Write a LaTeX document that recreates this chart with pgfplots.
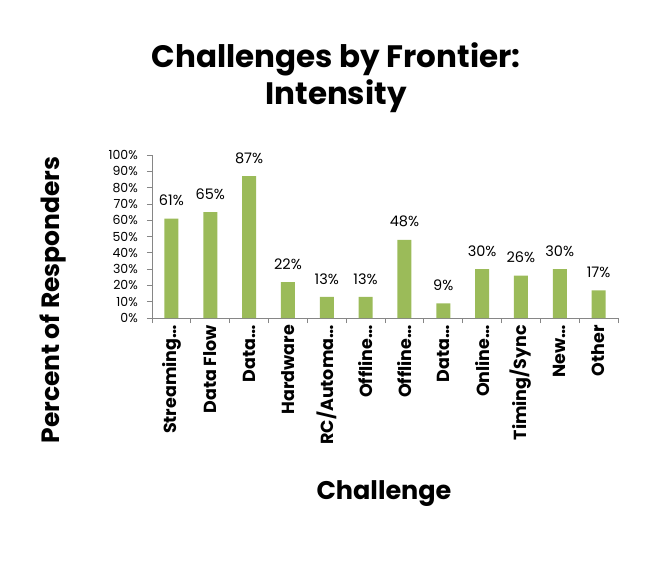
\documentclass[border=0pt]{standalone}
\usepackage{fontspec}
\setmainfont{Poppins}
\usepackage{pgfplots}
\pgfplotsset{compat=1.18}
\definecolor{bargreen}{HTML}{9BBB59}
\definecolor{axgray}{HTML}{868686}
\begin{document}
\begin{tikzpicture}
\useasboundingbox (0pt,0pt) rectangle (664pt,566pt);
\begin{axis}[
  at={(152pt,248pt)}, anchor=south west,
  scale only axis, width=466pt, height=163pt,
  xmin=-0.5, xmax=11.5, ymin=0, ymax=100,
  axis x line*=bottom, axis y line*=left,
  axis line style={axgray, line width=0.8pt},
  ybar, bar width=14pt,
  xtick={0,...,11},
  xticklabels={Streaming\ldots, Data Flow, Data\ldots, Hardware, RC/Automa\ldots, Offline\ldots, Offline\ldots, Data\ldots, Online\ldots, Timing/Sync, New\ldots, Other},
  x tick label style={rotate=90, anchor=east, font=\fontsize{17.5}{17.5}\selectfont\bfseries, inner sep=2pt, yshift=0pt},
  major x tick style={draw=none},
  minor xtick={-0.5,0.5,...,11.5},
  minor x tick style={axgray, line width=0.8pt},
  minor tick length=5pt,
  xtick align=outside,
  ytick={0,10,...,100},
  yticklabel={\pgfmathprintnumber{\tick}\%},
  y tick label style={font=\fontsize{12.5}{12.5}\selectfont, inner sep=1pt, xshift=-8pt},
  /pgf/number format/assume math mode=true,
  ytick align=outside,
  major y tick style={axgray, line width=0.8pt},
  major tick length=5pt,
  nodes near coords={\pgfmathprintnumber{\pgfplotspointmeta}\%},
  nodes near coords style={font=\fontsize{14.5}{14.5}\selectfont, black, yshift=9pt},
  clip=false,
]
\addplot[fill=bargreen, draw=none] coordinates {
(0,61) (1,65) (2,87) (3,22) (4,13) (5,13) (6,48) (7,9) (8,30) (9,26) (10,30) (11,17)
};
\end{axis}
\node[font=\fontsize{31}{37}\selectfont\bfseries, align=center] at (336pt,488pt) {Challenges by Frontier:\\Intensity};
\node[font=\fontsize{25}{25}\selectfont\bfseries, rotate=90] at (53pt,266pt) {Percent of Responders};
\node[font=\fontsize{25.5}{25.5}\selectfont\bfseries] at (384pt,72pt) {Challenge};
\end{tikzpicture}
\end{document}
